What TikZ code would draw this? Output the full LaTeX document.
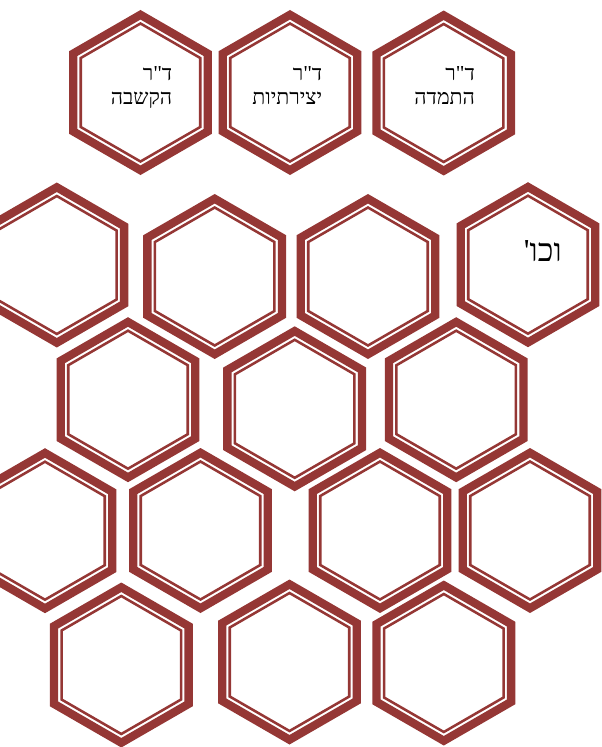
\documentclass[tikz,border=0pt]{standalone}
\usepackage{fontspec}
\newfontfamily\hebfont[Script=Hebrew]{Liberation Serif}
\TeXXeTstate=1
\usepackage{xcolor}
\usetikzlibrary{shapes.geometric}

\definecolor{hexred}{HTML}{953735}

\begin{document}
\begin{tikzpicture}[
    x=0.75pt, y=-0.75pt,
    hexcell/.style={regular polygon, regular polygon sides=6, shape border rotate=30, minimum size=116.6pt, inner sep=0pt, draw=hexred, line width=6.2pt},
    hexcore/.style={regular polygon, regular polygon sides=6, shape border rotate=30, minimum size=103.5pt, inner sep=0pt, draw=hexred, line width=1.9pt},
    hextext/.style={anchor=north east, align=right, inner sep=0pt, font=\hebfont\fontsize{16}{18}\selectfont},
    bigtext/.style={anchor=base east, inner sep=0pt, font=\hebfont\fontsize{24}{28}\selectfont}
]
\useasboundingbox (0,0) rectangle (601,747);

% top row
\node (h1) [hexcell] at (140.5,92.5) {};  \node (c1) [hexcore] at (h1) {};
\node (h2) [hexcell] at (290,92.5) {};    \node (c2) [hexcore] at (h2) {};
\node (h3) [hexcell] at (443.7,93) {};    \node (c3) [hexcore] at (h3) {};

% second row
\node (h4) [hexcell] at (56.8,265) {};    \node (c4) [hexcore] at (h4) {};
\node (h5) [hexcell] at (214.7,276.5) {}; \node (c5) [hexcore] at (h5) {};
\node (h6) [hexcell] at (368,276.5) {};   \node (c6) [hexcore] at (h6) {};
\node (h7) [hexcell] at (528,264.7) {};   \node (c7) [hexcore] at (h7) {};

% third row
\node (h8) [hexcell] at (128,399.7) {};   \node (c8) [hexcore] at (h8) {};
\node (h9) [hexcell] at (294.7,408.8) {}; \node (c9) [hexcore] at (h9) {};
\node (h10) [hexcell] at (456.2,399.7) {}; \node (c10) [hexcore] at (h10) {};

% fourth row
\node (h11) [hexcell] at (45,530.7) {};   \node (c11) [hexcore] at (h11) {};
\node (h12) [hexcell] at (200.5,530.5) {}; \node (c12) [hexcore] at (h12) {};
\node (h13) [hexcell] at (380,530.5) {};  \node (c13) [hexcore] at (h13) {};
\node (h14) [hexcell] at (530,530.5) {};  \node (c14) [hexcore] at (h14) {};

% bottom row
\node (h15) [hexcell] at (121.3,665) {};  \node (c15) [hexcore] at (h15) {};
\node (h16) [hexcell] at (289.5,662) {};  \node (c16) [hexcore] at (h16) {};
\node (h17) [hexcell] at (443.8,663) {};  \node (c17) [hexcore] at (h17) {};

% labels
\node (t1) [hextext] at ([shift={(32,-26)}]h1.center) {\beginR ד"ר\endR\\\beginR הקשבה\endR};
\node (t2) [hextext] at ([shift={(32.5,-26)}]h2.center) {\beginR ד"ר\endR\\\beginR יצירתיות\endR};
\node (t3) [hextext] at ([shift={(31.5,-27)}]h3.center) {\beginR ד"ר\endR\\\beginR התמדה\endR};
\node (t4) [bigtext] at ([shift={(34,-3)}]h7.center) {\beginR וכו'\endR};

\end{tikzpicture}
\end{document}
